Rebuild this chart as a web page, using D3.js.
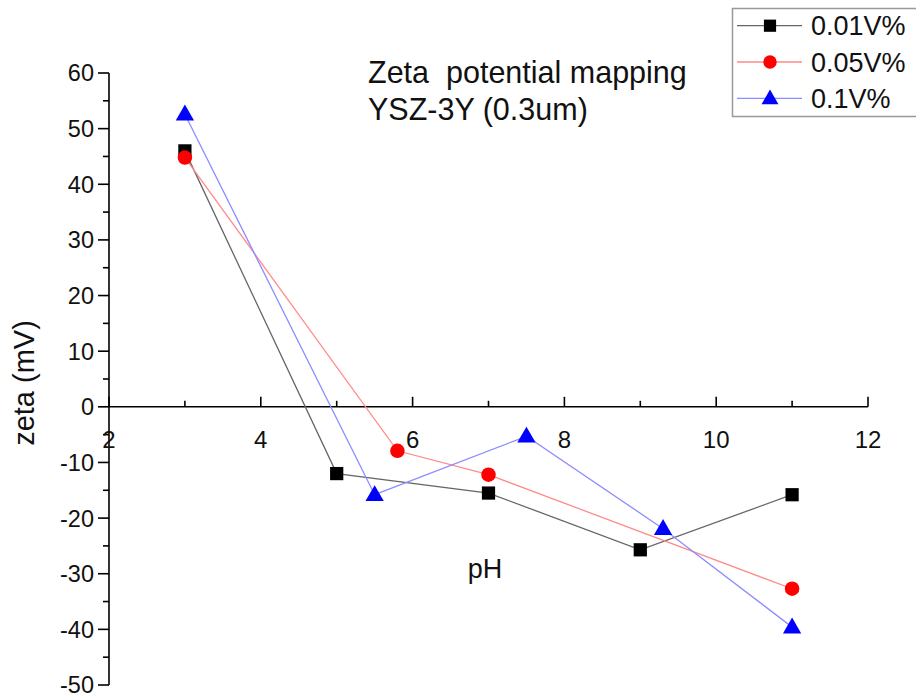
<!DOCTYPE html>
<html><head><meta charset="utf-8">
<script src="https://cdn.jsdelivr.net/npm/d3@7"></script>
<style>body{margin:0;background:#fff}svg{display:block;font-family:"Liberation Sans",Arial,sans-serif}</style>
</head><body><svg id="c" width="916" height="698"></svg>
<script>
const seriesNames = ["0.01V%", "0.05V%", "0.1V%"];
const phA = [3, 5, 7, 9, 11];
const zetaA = [46, -12, -15.5, -25.7, -15.8];
const phB = [3, 5.8, 7, 11];
const zetaB = [44.8, -7.9, -12.2, -32.7];
const phC = [3, 5.5, 7.5, 9.3, 11];
const zetaC = [52.6, -15.8, -5.3, -21.9, -39.6];
const xTicks = [2, 4, 6, 8, 10, 12];
const yTicks = [60, 50, 40, 30, 20, 10, 0, -10, -20, -30, -40, -50];

const svg = d3.select("#c");
const x = d3.scaleLinear().domain([2, 12]).range([109, 868]);
const y = d3.scaleLinear().domain([-50, 60]).range([685, 73]);

// y axis
const gy = svg.append("g").attr("transform", `translate(${x(2)},0)`);
gy.append("line").attr("x1",0).attr("x2",0).attr("y1",y(60)).attr("y2",y(-50)).attr("stroke","#000").attr("stroke-width",1.6);
gy.selectAll(".yt").data(d3.range(-50, 61, 5)).join("line")
  .attr("x1", d => d % 10 === 0 ? -11 : -6).attr("x2", 0)
  .attr("y1", d => y(d)).attr("y2", d => y(d)).attr("stroke","#000").attr("stroke-width",1.6);
gy.selectAll(".yl").data(yTicks).join("text")
  .attr("x", -15).attr("y", d => y(d)).attr("dy","0.36em").attr("text-anchor","end")
  .attr("font-size", 23.5).attr("fill","#111").text(d => d);

// x axis at zeta = 0
const gx = svg.append("g").attr("transform", `translate(0,${y(0)})`);
gx.append("line").attr("x1",x(2)).attr("x2",x(12)).attr("y1",0).attr("y2",0).attr("stroke","#000").attr("stroke-width",1.6);
gx.selectAll(".xt").data(d3.range(2, 12.01, 1)).join("line")
  .attr("x1", d => x(d)).attr("x2", d => x(d))
  .attr("y1", d => d % 2 === 0 ? -10 : -6).attr("y2", 0).attr("stroke","#000").attr("stroke-width",1.6);
gx.selectAll(".xl").data(xTicks).join("text")
  .attr("x", d => x(d)).attr("y", 41).attr("text-anchor","middle")
  .attr("font-size", 24).attr("fill","#111").text(d => d);

// axis titles
svg.append("text").attr("x", 485).attr("y", 578).attr("text-anchor","middle").attr("font-size",27).attr("fill","#111").text("pH");
svg.append("text").attr("transform","translate(34,383) rotate(-90)").attr("text-anchor","middle").attr("font-size",29).attr("fill","#111").text("zeta (mV)");

// annotation
svg.append("text").attr("x", 368).attr("y", 83).attr("font-size",30.5).attr("fill","#111").attr("xml:space","preserve").text("Zeta  potential mapping");
svg.append("text").attr("x", 368).attr("y", 120).attr("font-size",30.5).attr("fill","#111").text("YSZ-3Y (0.3um)");

const series = [
  {name: seriesNames[0], xs: phA, ys: zetaA, line: "#666", fill: "#000", sym: d3.symbolSquare, size: 175},
  {name: seriesNames[1], xs: phB, ys: zetaB, line: "#ff8a8a", fill: "#ff0000", sym: d3.symbolCircle, size: 165},
  {name: seriesNames[2], xs: phC, ys: zetaC, line: "#8c8cff", fill: "#0000ff", sym: d3.symbolTriangle, size: 145},
];
const lineGen = d3.line().x(d => x(d[0])).y(d => y(d[1]));
series.forEach(s => {
  const pts = s.xs.map((v, i) => [v, s.ys[i]]);
  svg.append("path").attr("d", lineGen(pts)).attr("fill","none").attr("stroke", s.line).attr("stroke-width",1.3);
});
series.forEach(s => {
  const pts = s.xs.map((v, i) => [v, s.ys[i]]);
  svg.selectAll(null).data(pts).join("path")
    .attr("transform", d => `translate(${x(d[0])},${y(d[1]) + (s.sym === d3.symbolTriangle ? 1 : 0)})`)
    .attr("d", d3.symbol(s.sym, s.size)).attr("fill", s.fill);
});

// legend
const lg = svg.append("g");
lg.append("rect").attr("x", 732.5).attr("y", 8.5).attr("width", 200).attr("height", 108).attr("fill","#fff").attr("stroke","#999").attr("stroke-width",1.5);
series.forEach((s, i) => {
  const ly = 25.7 + i * 36.3;
  lg.append("line").attr("x1", 737).attr("x2", 802).attr("y1", ly).attr("y2", ly).attr("stroke", s.line).attr("stroke-width",1.3);
  lg.append("path").attr("transform", `translate(770,${ly + (s.sym === d3.symbolTriangle ? 1 : 0)})`).attr("d", d3.symbol(s.sym, s.size*0.85)).attr("fill", s.fill);
  lg.append("text").attr("x", 811).attr("y", ly).attr("dy","0.36em").attr("font-size",27).attr("fill","#111").text(s.name);
});
</script></body></html>
